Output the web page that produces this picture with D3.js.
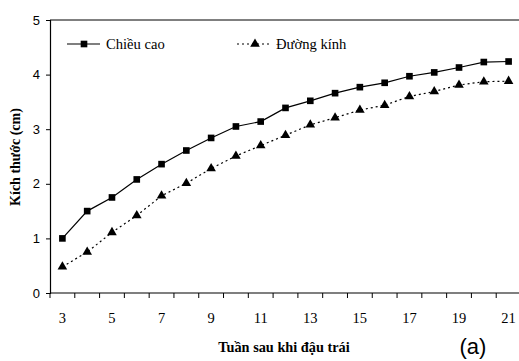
<!DOCTYPE html>
<html>
<head>
<meta charset="utf-8">
<script src="https://cdn.jsdelivr.net/npm/d3@7"></script>
<style>
  body { margin: 0; background: #fff; }
  svg { display: block; }
  .serif { font-family: "Liberation Serif", "Times New Roman", Times, serif; }
  .sans { font-family: "Liberation Sans", Arial, sans-serif; }
</style>
</head>
<body>
<div id="chart"></div>
<script>
const weeks = [3, 4, 5, 6, 7, 8, 9, 10, 11, 12, 13, 14, 15, 16, 17, 18, 19, 20, 21];
const chieuCao = [1.0, 1.5, 1.75, 2.08, 2.36, 2.61, 2.84, 3.05, 3.14, 3.39, 3.52, 3.66, 3.77, 3.85, 3.97, 4.04, 4.13, 4.23, 4.24];
const duongKinh = [0.48, 0.75, 1.11, 1.42, 1.78, 2.01, 2.28, 2.51, 2.70, 2.89, 3.08, 3.21, 3.35, 3.44, 3.60, 3.69, 3.81, 3.87, 3.88];
const yTicks = [0, 1, 2, 3, 4, 5];
const xLabels = [3, 5, 7, 9, 11, 13, 15, 17, 19, 21];

const width = 519, height = 361;
const margin = { top: 20, right: -2, bottom: 68, left: 50 };
const w = width - margin.left - margin.right;
const h = height - margin.top - margin.bottom;

const svg = d3.select("#chart").append("svg")
  .attr("width", width).attr("height", height);

const g = svg.append("g")
  .attr("transform", `translate(${margin.left},${margin.top})`);

const x = d3.scaleBand().domain(weeks).range([0, w]);
const y = d3.scaleLinear().domain([0, 5]).range([h, 0]);
const cx = d => x(d) + x.bandwidth() / 2;

// top border of plot area
g.append("line")
  .attr("x1", 0).attr("x2", w).attr("y1", 0).attr("y2", 0)
  .attr("stroke", "#000").attr("stroke-width", 1);

// y axis
const yAxis = g.append("g")
  .call(d3.axisLeft(y).tickValues(yTicks).tickSize(4).tickPadding(6).tickFormat(d3.format("d")));
yAxis.attr("font-family", null);
yAxis.select(".domain").attr("stroke-width", 1.2);
yAxis.selectAll("text")
  .attr("class", "sans")
  .attr("font-size", 13).attr("fill", "#000");

// x axis: ticks on category boundaries
const xg = g.append("g").attr("transform", `translate(0,${h})`);
xg.append("line").attr("x1", 0).attr("x2", w).attr("stroke", "#000").attr("stroke-width", 1.2);
xg.selectAll(".tk").data(weeks.concat(["end"])).join("line")
  .attr("x1", (d, i) => i * x.bandwidth()).attr("x2", (d, i) => i * x.bandwidth())
  .attr("y1", 0).attr("y2", 5).attr("stroke", "#000");
xg.selectAll(".lbl").data(xLabels).join("text")
  .attr("class", "serif")
  .attr("x", d => cx(d)).attr("y", 30)
  .attr("text-anchor", "middle")
  .attr("font-size", 14.5)
  .text(d => d);

// lines
const line = d3.line().x(d => cx(d[0])).y(d => y(d[1]));
const ccData = weeks.map((d, i) => [d, chieuCao[i]]);
const dkData = weeks.map((d, i) => [d, duongKinh[i]]);

g.append("path").datum(ccData).attr("d", line)
  .attr("fill", "none").attr("stroke", "#000").attr("stroke-width", 1.2);
g.append("path").datum(dkData).attr("d", line)
  .attr("fill", "none").attr("stroke", "#000").attr("stroke-width", 1.2)
  .attr("stroke-dasharray", "2,3");

const square = d3.symbol().type(d3.symbolSquare).size(44);
const tri = d3.symbol().type(d3.symbolTriangle).size(40);

g.selectAll(".sq").data(ccData).join("path")
  .attr("d", square)
  .attr("transform", d => `translate(${cx(d[0])},${y(d[1])})`)
  .attr("fill", "#000");
g.selectAll(".tr").data(dkData).join("path")
  .attr("d", tri)
  .attr("transform", d => `translate(${cx(d[0])},${y(d[1])})`)
  .attr("fill", "#000");

// legend
const leg = svg.append("g");
leg.append("line").attr("x1", 67).attr("x2", 100).attr("y1", 44).attr("y2", 44)
  .attr("stroke", "#000").attr("stroke-width", 1.2);
leg.append("path").attr("d", square).attr("transform", "translate(84,44)");
leg.append("text").attr("class", "serif").attr("x", 106).attr("y", 49)
  .attr("font-size", 14.6)
  .text("Chiều cao");
leg.append("line").attr("x1", 237).attr("x2", 271).attr("y1", 44).attr("y2", 44)
  .attr("stroke", "#000").attr("stroke-width", 1.2).attr("stroke-dasharray", "2,3");
leg.append("path").attr("d", tri).attr("transform", "translate(255,44)");
leg.append("text").attr("class", "serif").attr("x", 276).attr("y", 49)
  .attr("font-size", 14.6)
  .text("Đường kính");

// axis titles
svg.append("text").attr("class", "serif")
  .attr("x", 284).attr("y", 352).attr("text-anchor", "middle")
  .attr("font-weight", "bold").attr("font-size", 14.3)
  .text("Tuần sau khi đậu trái");
svg.append("text").attr("class", "serif")
  .attr("transform", "translate(20,157) rotate(-90)").attr("text-anchor", "middle")
  .attr("font-weight", "bold").attr("font-size", 14)
  .text("Kích thước (cm)");
svg.append("text").attr("class", "sans")
  .attr("x", 473).attr("y", 354).attr("text-anchor", "middle")
  .attr("font-size", 22)
  .text("(a)");
</script>
</body>
</html>
